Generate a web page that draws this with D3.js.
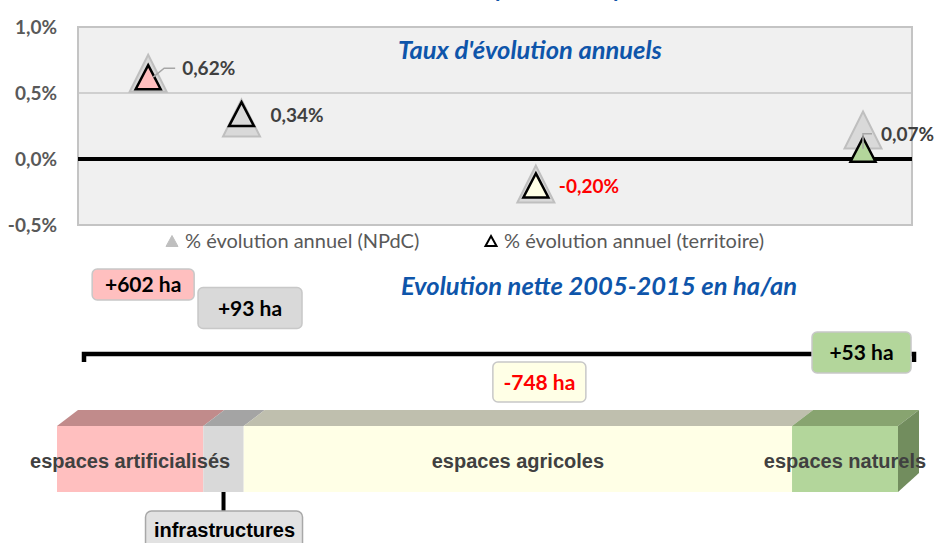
<!DOCTYPE html>
<html>
<head>
<meta charset="utf-8">
<script src="https://cdn.jsdelivr.net/npm/d3@7"></script>
<style>
  html, body { margin: 0; padding: 0; background: #fff; }
  svg { display: block; }
</style>
</head>
<body>
<div id="chart"></div>
<script>
// données
var categories = ['espaces artificialisés', 'infrastructures', 'espaces agricoles', 'espaces naturels'];
var shareOfArea = [17.4, 4.8, 65.2, 12.6];          // part de la surface (%)
var rateTerritory = [0.62, 0.34, -0.20, 0.07];      // % évolution annuel (territoire)
var rateNPdC = [0.65, 0.31, -0.19, 0.22];           // % évolution annuel (NPdC)
var netHaPerYear = [602, 93, -748, 53];             // évolution nette 2005-2015 en ha/an
var yTicks = [-0.5, 0, 0.5, 1.0];
var legendLabels = ['% évolution annuel (NPdC)', '% évolution annuel (territoire)'];

var width = 936, height = 543;

// couleurs
var frontColors = ['#ffbfbf', '#d9d9d9', '#ffffe6', '#b3d69b'];
var topColors = ['#c18b8b', '#a4a4a4', '#bfbfae', '#88a470'];
var sideColor = '#728d5e';
var boxColors = ['#ffbfbf', '#d9d9d9', '#ffffe6', '#b3d69b'];
var blue = '#0e55aa';

var fr = d3.formatLocale({decimal: ',', thousands: ' ', grouping: [3], currency: ['', ' €'], minus: '-'});
var fmtTick = fr.format('.1f');
var fmtRate = fr.format('.2f');

var svg = d3.select('#chart').append('svg')
    .attr('width', width)
    .attr('height', height);

var calibri = 'Lato, "Open Sans", sans-serif';
var narrow = '"Liberation Sans Narrow", "Arial Narrow", "Liberation Sans", sans-serif';

// titre (coupé en haut dans l'original)
var title = svg.append('text')
    .attr('x', 0).attr('y', -3)
    .style('font-family', calibri).style('font-weight', 'bold')
    .style('font-size', '22px').style('fill', blue)
    .text('Evolution des espaces sur la période');
var pIdx = title.text().indexOf('p');
var shift = 500 - title.node().getSubStringLength(0, pIdx) - 5;
title.attr('x', shift);

// ---- graphique des taux
var plot = {left: 78, right: 912, top: 27, bottom: 225};
var y = d3.scaleLinear().domain([-0.5, 1.0]).range([plot.bottom, plot.top]);

// échelle horizontale commune (barre 3D)
var bar = {left: 57, right: 898, top: 426, bottom: 492, dx: 21, dy: 16};
var cum = d3.cumsum(shareOfArea);
var x = d3.scaleLinear().domain([0, d3.sum(shareOfArea)]).range([bar.left, bar.right]);
var segs = shareOfArea.map(function(v, i) {
    var x0 = x(cum[i] - v), x1 = x(cum[i]);
    return {i: i, x0: x0, x1: x1, cx: (x0 + x1) / 2};
});
var pointX = function(i) { return segs[i].cx + 18; };

svg.append('rect')
    .attr('x', plot.left).attr('y', plot.top)
    .attr('width', plot.right - plot.left).attr('height', plot.bottom - plot.top)
    .style('fill', '#f0f0f0').style('stroke', '#c4c4c4').style('stroke-width', 2);

svg.append('g')
    .selectAll('line')
    .data([0.5])
    .enter().append('line')
    .attr('x1', plot.left).attr('x2', plot.right)
    .attr('y1', function(d) { return y(d); }).attr('y2', function(d) { return y(d); })
    .style('stroke', '#c4c4c4').style('stroke-width', 1.5);

var yAxis = svg.append('g')
    .attr('transform', 'translate(' + plot.left + ',0)')
    .call(d3.axisLeft(y).tickValues(yTicks).tickSize(0).tickPadding(21)
        .tickFormat(function(d) { return fmtTick(d) + '%'; }));
yAxis.select('.domain').remove();
yAxis.selectAll('text')
    .style('font-family', calibri).style('font-weight', 'bold')
    .style('font-size', '19px').style('fill', '#595959');

svg.append('line')
    .attr('x1', plot.left).attr('x2', plot.right)
    .attr('y1', y(0)).attr('y2', y(0))
    .style('stroke', '#000').style('stroke-width', 4);

svg.append('text')
    .attr('x', 530).attr('y', 59)
    .attr('text-anchor', 'middle')
    .style('font-family', calibri).style('font-weight', 'bold').style('font-style', 'italic')
    .style('font-size', '25.5px').style('fill', blue)
    .text("Taux d'évolution annuels");

var tri = function(w, h) {
    return 'M0,' + (-h / 2) + 'L' + (w / 2) + ',' + (h / 2) + 'L' + (-w / 2) + ',' + (h / 2) + 'Z';
};

// étiquettes : décalages
var labelOffsets = [[34, -2], [29, 8], [23, 8], [18, -9]];
var leaders = [
    [[5, 0], [16, -9], [27, -9]],
    null,
    null,
    [[0, -1], [0, -16], [9, -16]]
];

svg.append('g')
    .selectAll('path')
    .data(rateNPdC)
    .enter().append('path')
    .attr('d', tri(37, 37))
    .attr('transform', function(d, i) { return 'translate(' + pointX(i) + ',' + y(d) + ')'; })
    .style('fill', '#d9d9d9').style('stroke', '#bfbfbf').style('stroke-width', 2);

svg.append('g')
    .selectAll('path')
    .data(rateTerritory)
    .enter().append('path')
    .attr('d', tri(25, 24))
    .attr('transform', function(d, i) { return 'translate(' + pointX(i) + ',' + y(d) + ')'; })
    .style('fill', function(d, i) { return frontColors[i]; })
    .style('stroke', '#000').style('stroke-width', 2.5).style('stroke-linejoin', 'miter');

var leaderData = rateTerritory
    .map(function(d, i) { return {v: d, i: i}; })
    .filter(function(p) { return leaders[p.i]; });
svg.append('g')
    .selectAll('polyline')
    .data(leaderData)
    .enter().append('polyline')
    .attr('points', function(p) {
        var px = pointX(p.i), py = y(p.v);
        return leaders[p.i].map(function(q) { return (px + q[0]) + ',' + (py + q[1]); }).join(' ');
    })
    .style('fill', 'none').style('stroke', '#a6a6a6').style('stroke-width', 1.5);

svg.append('g')
    .selectAll('text')
    .data(rateTerritory)
    .enter().append('text')
    .attr('x', function(d, i) { return pointX(i) + labelOffsets[i][0]; })
    .attr('y', function(d, i) { return y(d) + labelOffsets[i][1]; })
    .style('font-family', calibri).style('font-weight', 'bold')
    .style('font-size', '19px')
    .style('fill', function(d) { return d < 0 ? '#ff0000' : '#404040'; })
    .text(function(d) { return fmtRate(d) + '%'; });

// légende
var legend = svg.append('g').selectAll('g')
    .data(legendLabels)
    .enter().append('g')
    .attr('transform', function(d, i) { return 'translate(' + [172, 491][i] + ',241)'; });
legend.append('path')
    .attr('d', function(d, i) { return i === 0 ? tri(12, 11) : tri(11, 10); })
    .style('fill', function(d, i) { return i === 0 ? '#bfbfbf' : 'none'; })
    .style('stroke', function(d, i) { return i === 0 ? '#bfbfbf' : '#000'; })
    .style('stroke-width', function(d, i) { return i === 0 ? 1 : 2; });
legend.append('text')
    .attr('x', 13).attr('y', 7)
    .style('font-family', calibri)
    .style('font-size', '20px').style('fill', '#595959')
    .text(function(d) { return d; });

// ---- évolution nette
svg.append('text')
    .attr('x', 599).attr('y', 295)
    .attr('text-anchor', 'middle')
    .style('font-family', calibri).style('font-weight', 'bold').style('font-style', 'italic')
    .style('font-size', '25.5px').style('fill', blue)
    .text('Evolution nette 2005-2015 en ha/an');

svg.append('path')
    .attr('d', 'M84,362V354H914V362')
    .style('fill', 'none').style('stroke', '#000').style('stroke-width', 4.5);

// position des étiquettes (centre) par rapport au point
var boxLayout = [
    {dx: -5, cy: 284.5, w: 102, h: 31},
    {dx: 8.5, cy: 308, w: 104, h: 41},
    {dx: 3.5, cy: 382, w: 93, h: 40},
    {dx: -1.5, cy: 352.5, w: 99, h: 41}
];
var boxes = svg.append('g').selectAll('g')
    .data(netHaPerYear)
    .enter().append('g')
    .attr('transform', function(d, i) { return 'translate(' + (pointX(i) + boxLayout[i].dx) + ',' + boxLayout[i].cy + ')'; });
boxes.append('rect')
    .attr('x', function(d, i) { return -boxLayout[i].w / 2; })
    .attr('y', function(d, i) { return -boxLayout[i].h / 2; })
    .attr('width', function(d, i) { return boxLayout[i].w; })
    .attr('height', function(d, i) { return boxLayout[i].h; })
    .attr('rx', 5)
    .style('fill', function(d, i) { return boxColors[i]; })
    .style('stroke', '#c8c8c8').style('stroke-width', 1.5);
boxes.append('text')
    .attr('text-anchor', 'middle')
    .attr('y', 7.5)
    .style('font-family', calibri).style('font-weight', 'bold')
    .style('font-size', '21px')
    .style('fill', function(d) { return d < 0 ? '#ff0000' : '#000'; })
    .text(function(d) { return (d > 0 ? '+' : '') + d + ' ha'; });

// ---- barre 3D
var g3 = svg.append('g');
g3.selectAll('path.top')
    .data(segs)
    .enter().append('path')
    .attr('class', 'top')
    .attr('d', function(s) {
        return 'M' + s.x0 + ',' + bar.top + 'L' + (s.x0 + bar.dx) + ',' + (bar.top - bar.dy) +
            'L' + (s.x1 + bar.dx) + ',' + (bar.top - bar.dy) + 'L' + s.x1 + ',' + bar.top + 'Z';
    })
    .style('fill', function(s) { return topColors[s.i]; });
g3.append('path')
    .attr('d', 'M' + bar.right + ',' + bar.top + 'L' + (bar.right + bar.dx) + ',' + (bar.top - bar.dy) +
        'L' + (bar.right + bar.dx) + ',' + (bar.bottom - bar.dy - 3) + 'L' + bar.right + ',' + bar.bottom + 'Z')
    .style('fill', sideColor);
g3.selectAll('rect')
    .data(segs)
    .enter().append('rect')
    .attr('x', function(s) { return s.x0; })
    .attr('y', bar.top)
    .attr('width', function(s) { return s.x1 - s.x0; })
    .attr('height', bar.bottom - bar.top)
    .style('fill', function(s) { return frontColors[s.i]; });
g3.selectAll('text')
    .data(segs.filter(function(s) { return s.i !== 1; }))
    .enter().append('text')
    .attr('x', function(s) { return s.cx; })
    .attr('y', 468)
    .attr('text-anchor', 'middle')
    .style('font-family', narrow).style('font-weight', 'bold')
    .style('font-size', '20px').style('fill', '#404040')
    .text(function(s) { return categories[s.i]; });

// infrastructures
svg.append('line')
    .attr('x1', segs[1].cx).attr('x2', segs[1].cx)
    .attr('y1', bar.bottom).attr('y2', 512)
    .style('stroke', '#000').style('stroke-width', 4);
svg.append('rect')
    .attr('x', segs[1].cx - 78).attr('y', 511)
    .attr('width', 157).attr('height', 45).attr('rx', 6)
    .style('fill', '#e2e2e2').style('stroke', '#a8a8a8').style('stroke-width', 1.5);
svg.append('text')
    .attr('x', segs[1].cx + 1).attr('y', 537)
    .attr('text-anchor', 'middle')
    .style('font-family', narrow).style('font-weight', 'bold')
    .style('font-size', '20px').style('fill', '#000')
    .text(categories[1]);
</script>
</body>
</html>
